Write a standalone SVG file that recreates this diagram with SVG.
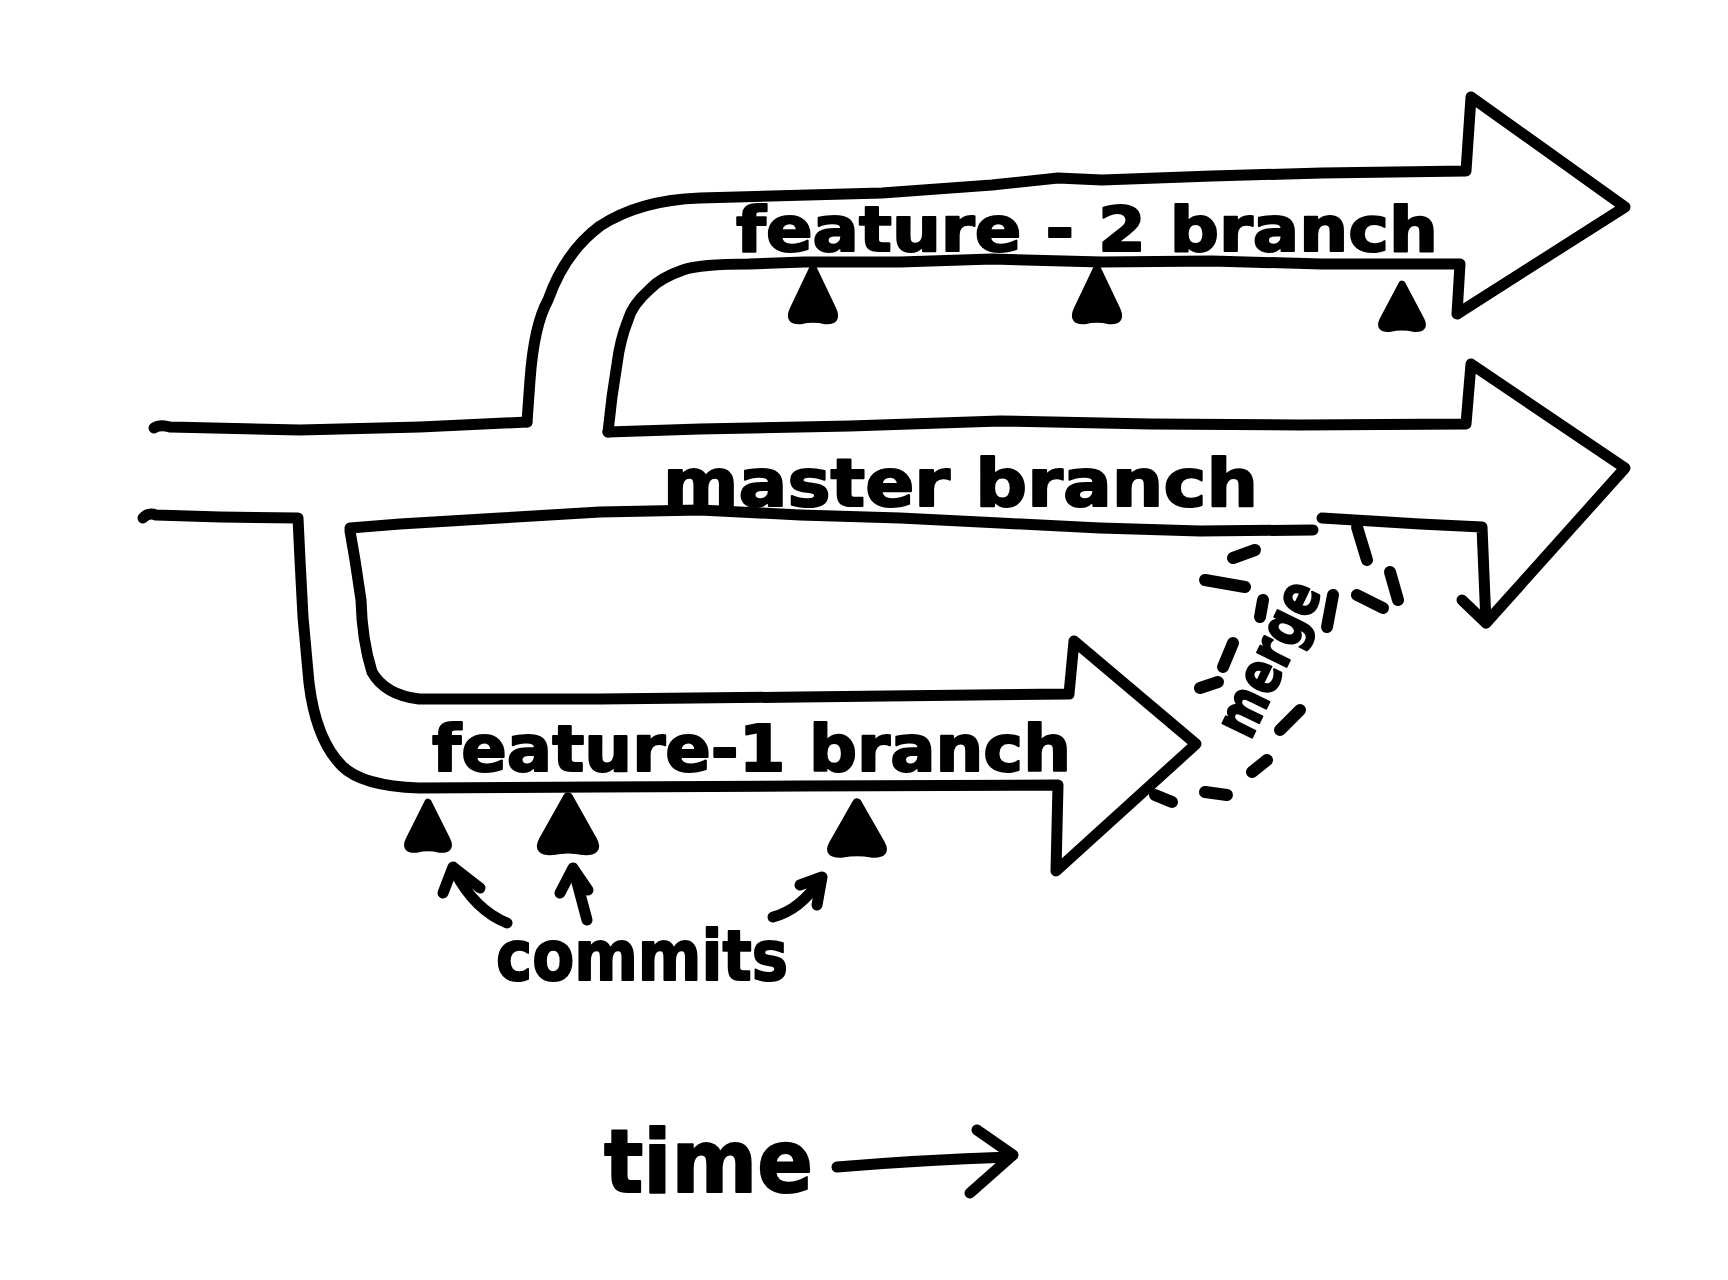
<svg xmlns="http://www.w3.org/2000/svg" xmlns:xlink="http://www.w3.org/1999/xlink" width="1728" height="1280" viewBox="0 0 1728 1280">
<style>
.ln{fill:none;stroke:#000;stroke-width:11;stroke-linecap:round;stroke-linejoin:round}
.ar{fill:none;stroke:#000;stroke-width:11;stroke-linecap:round;stroke-linejoin:round}
.dash{fill:none;stroke:#000;stroke-width:12;stroke-linecap:round}
.txt{font-family:"DejaVu Sans","Liberation Sans",sans-serif;font-weight:bold;fill:#000;stroke:#000;stroke-width:2;stroke-linejoin:round}
.cm{fill:#000;stroke:#000;stroke-width:7;stroke-linejoin:round}
</style>
<defs>
<path id="commit" d="M0,2 L19,42 Q24,53 12,52 Q0,49 -12,52 Q-24,53 -19,42 Z"/>
</defs>
<rect width="1728" height="1280" fill="#fff"/>

<g id="master-branch">
<path class="ln" d="M154,428 Q160,424 170,427 L300,430 L420,427 L527,422"/>
<path class="ln" d="M608,432 L700,429 L850,426 L1000,421 L1150,424 L1300,425 L1466,424 L1471,364 L1625,468 L1486,623 L1482,527 L1420,524 L1322,518"/>
<path class="ln" d="M1313,530 L1200,531 L1100,528 L1000,523 L900,518 L800,515 L700,510 L600,512 L500,518 L400,524 L350,528"/>
<path class="ln" d="M1462,600 L1486,623"/>
<text class="txt" x="663" y="506" font-size="66" textLength="595" lengthAdjust="spacingAndGlyphs">master branch</text>
</g>

<g id="feature-1-branch">
<path class="ln" d="M143,518 Q148,512 156,515 L220,517 L298,518 L300,560 L303,617 L309,683 Q316,740 342,766 Q362,786 419,788 L600,787 L800,786 L1058,785 L1056,871 L1196,744 L1074,641 L1069,694 L800,697 L600,699 L419,699 Q385,695 372,672 Q362,640 361,600 L355,560 L350,531"/>
<text class="txt" x="432" y="771" font-size="64" textLength="639" lengthAdjust="spacingAndGlyphs">feature-1 branch</text>
</g>

<g id="feature-2-branch">
<path class="ln" d="M527,422 L530,380 Q534,325 548,300 Q565,252 600,226 Q640,200 700,198 L882,193 L992,185 L1058,178 L1102,180 L1212,176 L1322,173 L1466,171 L1471,97 L1625,207 L1457,314 L1460,264 L1322,264 L1212,261 L1102,262 L992,259 L900,262 L804,262 L749,264 Q700,264 683,270 Q660,278 650,289 Q632,305 628,320 Q620,340 617,364 L612,397 L608,432"/>
<text class="txt" x="736" y="251" font-size="62" textLength="702" lengthAdjust="spacingAndGlyphs">feature - 2 branch</text>
</g>

<g id="commit-f2-1"><use xlink:href="#commit" class="cm" transform="translate(813,266) scale(1.05,1.05)"/></g>
<g id="commit-f2-2"><use xlink:href="#commit" class="cm" transform="translate(1097,266) scale(1.05,1.05)"/></g>
<g id="commit-f2-3"><use xlink:href="#commit" class="cm" transform="translate(1402,282) scale(1,0.9)"/></g>
<g id="commit-f1-1"><use xlink:href="#commit" class="cm" transform="translate(428,800) scale(1,0.95)"/></g>
<g id="commit-f1-2"><use xlink:href="#commit" class="cm" transform="translate(568,794) scale(1.3,1.1)"/></g>
<g id="commit-f1-3"><use xlink:href="#commit" class="cm" transform="translate(857,800) scale(1.25,1.04)"/></g>

<g id="commits-label">
<text class="txt" x="496" y="980" font-size="70" textLength="292" lengthAdjust="spacingAndGlyphs">commits</text>
</g>

<g id="time-label">
<text class="txt" x="604" y="1192" font-size="88" textLength="209" lengthAdjust="spacingAndGlyphs">time</text>
</g>

<g id="merge-label">
<text class="txt" x="0" y="16" font-size="60" text-anchor="middle" textLength="165" lengthAdjust="spacingAndGlyphs" transform="translate(1272,660) rotate(-64)">merge</text>
</g>

<g id="connectors">
<path class="ar" d="M507,923 Q475,910 455,872"/>
<path class="ar" d="M443,893 L453,867 L480,888"/>
<path class="ar" d="M587,920 L575,875"/>
<path class="ar" d="M560,893 L573,868 L588,890"/>
<path class="ar" d="M773,917 Q800,910 820,880"/>
<path class="ar" d="M800,885 L822,877 L817,905"/>
<path class="ar" stroke-width="12" d="M837,1167 Q920,1160 1010,1157"/>
<path class="ar" stroke-width="12" d="M977,1130 L1013,1155 L970,1193"/>
<path class="dash" d="M1233,558 L1255,550"/>
<path class="dash" d="M1205,580 L1245,587"/>
<path class="dash" d="M1263,600 L1260,617"/>
<path class="dash" d="M1233,643 L1223,667"/>
<path class="dash" d="M1200,688 L1218,682"/>
<path class="dash" d="M1300,710 L1280,730"/>
<path class="dash" d="M1267,760 L1252,772"/>
<path class="dash" d="M1155,795 L1172,802"/>
<path class="dash" d="M1205,792 L1227,795"/>
<path class="dash" d="M1333,595 L1327,627"/>
<path class="dash" d="M1357,595 L1383,608"/>
<path class="dash" d="M1390,572 L1398,600"/>
<path class="dash" d="M1357,527 L1367,560"/>
</g>
</svg>
